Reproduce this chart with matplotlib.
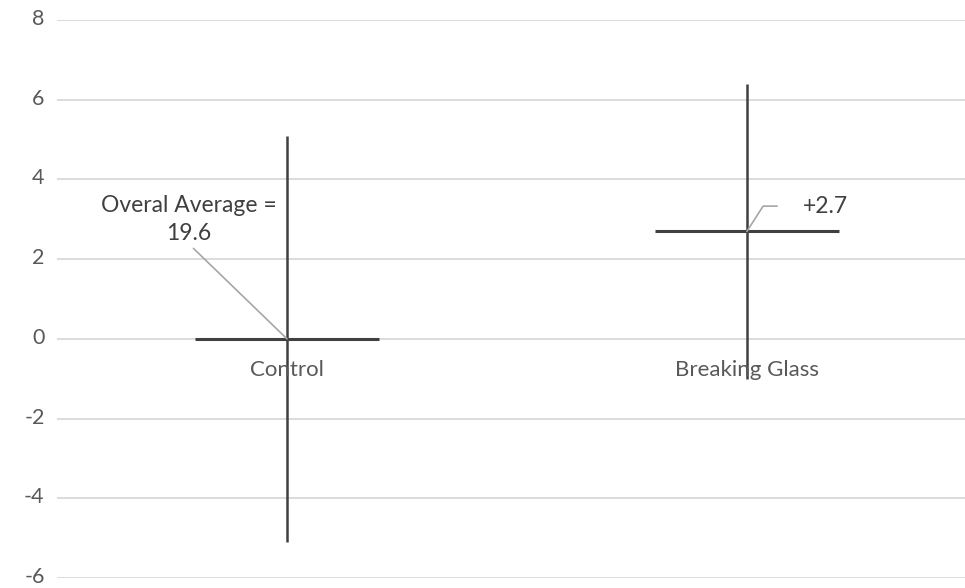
import numpy as np
import matplotlib
matplotlib.use("Agg")
import matplotlib.pyplot as plt
from matplotlib.transforms import ScaledTranslation

plt.rcParams['font.family'] = ['Lato', 'DejaVu Sans']

categories = ["Control", "Breaking Glass"]
means = [0.0, 2.7]
errors = [5.1, 3.7]
y_ticks = [-6, -4, -2, 0, 2, 4, 6, 8]
avg_label = "Overal Average =\n19.6"
diff_label = "+2.7"

line_col = "#404040"
grid_col = "#d9d9d9"
text_col = "#595959"

fig = plt.figure(figsize=(9.65, 5.88), dpi=100)
ax = fig.add_axes([57 / 965, 10 / 588, 908 / 965, 558 / 588])

x = np.arange(len(categories))

# gridlines
for t in y_ticks:
    ax.axhline(t, color=grid_col, lw=1.3, zorder=0)

ax.errorbar(x, means, yerr=errors, fmt='none', ecolor=line_col, elinewidth=1.8, capsize=0, zorder=3)
ax.hlines(means, x - 0.2, x + 0.2, color=line_col, lw=2.2, zorder=3)

ax.set_xlim(-0.5, -0.5 + 908 / 460)
ax.set_ylim(-6, 8)
ax.set_yticks(y_ticks)
ax.set_yticklabels([str(t) for t in y_ticks])
ax.tick_params(axis='y', length=0, pad=9, labelsize=15.5, labelcolor=text_col)
# nudge tick labels up a little so the bottom one is not clipped
for lab in ax.get_yticklabels():
    lab.set_transform(lab.get_transform() + ScaledTranslation(0, 3 / 100, fig.dpi_scale_trans))
ax.set_xticks([])
for s in ax.spines.values():
    s.set_visible(False)

# category labels sit just below the zero line
for xi, name in zip(x, categories):
    ax.text(xi, -0.52, name, ha='center', va='top', fontsize=16, color=text_col, zorder=4)

# data labels with leader lines
ax.annotate(avg_label, xy=(x[0], means[0]), xytext=(x[0] - 0.214, 3.0),
            ha='center', va='center', fontsize=16.5, color="#404040", linespacing=1.4,
            arrowprops=dict(arrowstyle='-', color="#a6a6a6", lw=1.2,
                            shrinkA=2, shrinkB=0, relpos=(0.5, 0.0)))
ax.plot([x[1], x[1] + 0.035, x[1] + 0.065], [means[1], 3.33, 3.33], color="#a6a6a6", lw=1.2, zorder=4)
ax.text(x[1] + 0.17, 3.33, diff_label, ha='center', va='center', fontsize=16.5, color="#404040")

fig.savefig("out.png", dpi=100)
